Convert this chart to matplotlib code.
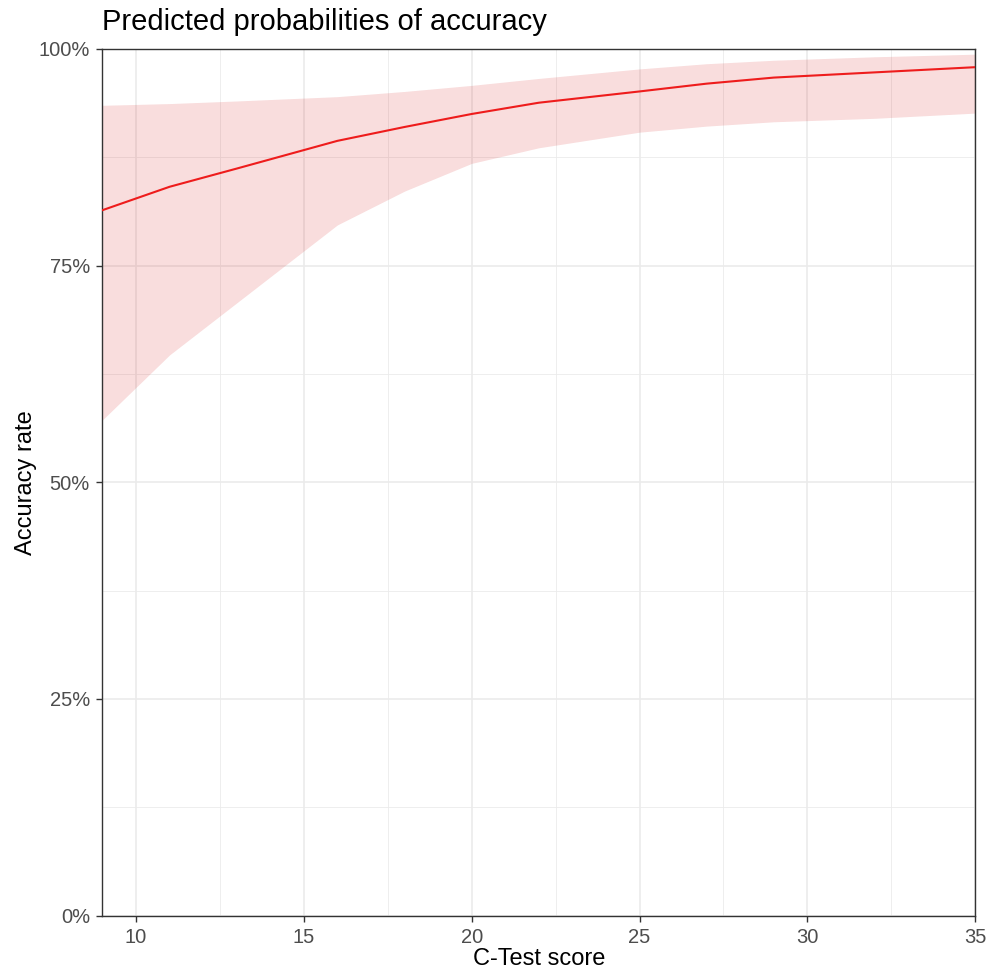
import matplotlib
matplotlib.use("Agg")
import matplotlib.pyplot as plt
from matplotlib.ticker import FuncFormatter, MultipleLocator

plt.rcParams["font.family"] = ["Liberation Sans", "DejaVu Sans"]

# predicted accuracy by C-Test score, with confidence band
ctest = [9, 11, 13, 16, 18, 20, 22, 25, 27, 29, 32, 35]
predicted = [0.814, 0.841, 0.862, 0.894, 0.910, 0.925, 0.938, 0.951, 0.960, 0.967, 0.973, 0.979]
upper = [0.935, 0.937, 0.940, 0.945, 0.951, 0.958, 0.966, 0.977, 0.983, 0.987, 0.991, 0.994]
lower = [0.572, 0.647, 0.707, 0.797, 0.836, 0.868, 0.886, 0.904, 0.911, 0.916, 0.920, 0.926]

fig = plt.figure(figsize=(9.9, 9.72), dpi=100)
ax = fig.add_axes([0.1035, 0.0581, 0.8815, 0.8915])

ax.fill_between(ctest, lower, upper, color="#D81B1B", alpha=0.15, linewidth=0, zorder=2)
ax.plot(ctest, predicted, color="#EE1C1C", linewidth=1.5, zorder=3)

ax.set_xlim(9, 35)
ax.set_ylim(0, 1)
ax.xaxis.set_major_locator(MultipleLocator(5))
ax.xaxis.set_minor_locator(MultipleLocator(2.5))
ax.yaxis.set_major_locator(MultipleLocator(0.25))
ax.yaxis.set_minor_locator(MultipleLocator(0.125))
ax.yaxis.set_major_formatter(FuncFormatter(lambda v, p: "%d%%" % round(v * 100)))

ax.grid(which="major", color="#EBEBEB", linewidth=1.2, zorder=0)
ax.grid(which="minor", color="#EBEBEB", linewidth=0.6, zorder=0)
ax.set_axisbelow(True)

for s in ax.spines.values():
    s.set_color("#333333")
    s.set_linewidth(1.0)

ax.tick_params(which="major", length=4, width=1, color="#333333",
               labelcolor="#4D4D4D", labelsize=14.5)
ax.tick_params(axis="x", pad=5)
ax.tick_params(axis="y", pad=5)
ax.tick_params(which="minor", length=0)

ax.set_xlabel("C-Test score", fontsize=17, color="black", labelpad=1)
ax.set_ylabel("Accuracy rate", fontsize=17, color="black", labelpad=1)
ax.set_title("Predicted probabilities of accuracy", fontsize=21, loc="left", pad=14)

fig.savefig("out.png", dpi=100)
